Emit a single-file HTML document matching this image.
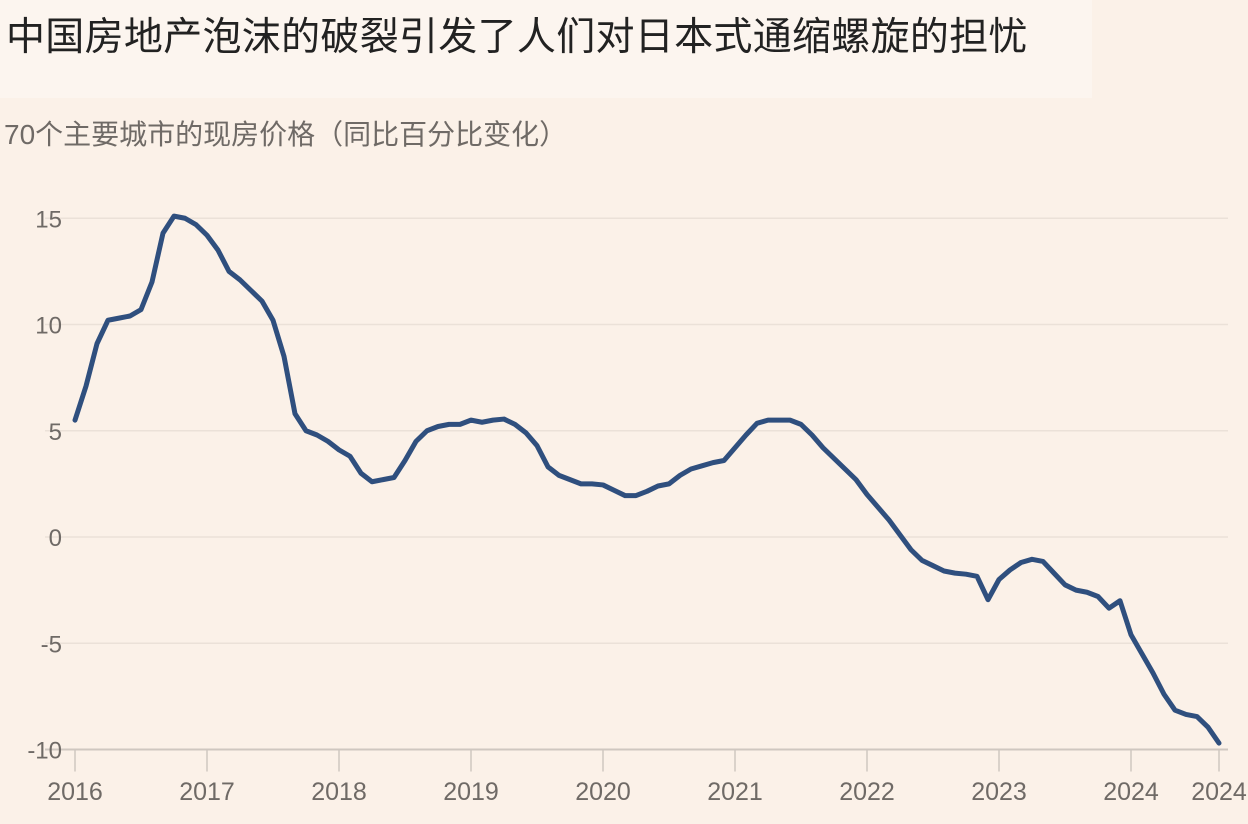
<!DOCTYPE html>
<html><head><meta charset="utf-8"><style>
body{margin:0;background:#fbf1e8;}
#wrap{position:relative;width:1248px;height:824px;overflow:hidden;background:#fbf1e8;font-family:"Liberation Sans","Noto Sans CJK SC",sans-serif;}
#titlebox{position:absolute;left:0;top:0;width:1092px;height:98px;background:#fcf5ef;}
#title{position:absolute;left:6px;top:6px;font-size:39px;color:#222;letter-spacing:0.3px;white-space:nowrap;}
#sub{position:absolute;left:4px;top:113px;font-size:28px;color:#6f6a66;white-space:nowrap;}
</style></head><body>
<div id="wrap">
<div id="titlebox"></div>
<div id="title">中国房地产泡沫的破裂引发了人们对日本式通缩螺旋的担忧</div>
<div id="sub">70个主要城市的现房价格（同比百分比变化）</div>
<svg id="svg" width="1248" height="824" style="position:absolute;left:0;top:0"></svg>
</div>
<script>
const values=[5.5,7.1,9.1,10.2,10.3,10.4,10.7,12,14.3,15.1,15,14.7,14.2,13.5,12.5,12.1,11.6,11.1,10.2,8.5,5.8,5,4.8,4.5,4.1,3.8,3.0,2.6,2.7,2.8,3.6,4.5,5,5.2,5.3,5.3,5.5,5.4,5.5,5.55,5.3,4.9,4.3,3.3,2.9,2.7,2.5,2.5,2.45,2.2,1.95,1.95,2.15,2.4,2.5,2.9,3.2,3.35,3.5,3.6,4.2,4.8,5.35,5.5,5.5,5.5,5.3,4.8,4.2,3.7,3.2,2.7,2.0,1.4,0.8,0.1,-0.6,-1.1,-1.35,-1.6,-1.7,-1.75,-1.85,-2.95,-2.0,-1.55,-1.2,-1.05,-1.15,-1.7,-2.25,-2.5,-2.6,-2.8,-3.35,-3.0,-4.6,-5.5,-6.4,-7.4,-8.15,-8.35,-8.45,-8.95,-9.7];
const yTicks=[15,10,5,0,-5,-10];
const xTickLabels=["2016","2017","2018","2019","2020","2021","2022","2023","2024"];
const xTickIdx=[0,12,24,36,48,60,72,84,96];
const lastLabel="2024";
const x=i=>75+i*(1144/104);
const y=v=>537-v*21.25;
const svg=document.getElementById('svg');
const NS='http://www.w3.org/2000/svg';
function mk(t,a){const e=document.createElementNS(NS,t);for(const k in a)e.setAttribute(k,a[k]);svg.appendChild(e);return e;}
yTicks.forEach(v=>{
 const g=mk('line',{x1:45,x2:1228,y1:y(v),y2:y(v),stroke:v===-10?'#cfc7c0':'#ebe1d8','stroke-width':v===-10?2:1.5});
 
 
 const t=mk('text',{x:62,y:y(v)+9,'text-anchor':'end','font-size':24,fill:'#6f6a66','font-family':'Liberation Sans, sans-serif'});
 t.textContent=v;
 
 
});
function xt(px,lab){
 const l=mk('line',{x1:px,x2:px,y1:y(-10),y2:y(-10)+22,stroke:'#cfc7c0','stroke-width':1.5});
 
 
 const t=mk('text',{x:px,y:800,'text-anchor':'middle','font-size':25,fill:'#6f6a66','font-family':'Liberation Sans, sans-serif'});
 t.textContent=lab;
 
 
}
xTickIdx.forEach((i,k)=>xt(x(i),xTickLabels[k]));
xt(x(values.length-1),lastLabel);
const p=mk('polyline',{points:values.map((v,i)=>x(i)+','+y(v)).join(' '),fill:'none',stroke:'#2f4f7e','stroke-width':5,'stroke-linejoin':'round','stroke-linecap':'round'});


</script>
</body></html>
